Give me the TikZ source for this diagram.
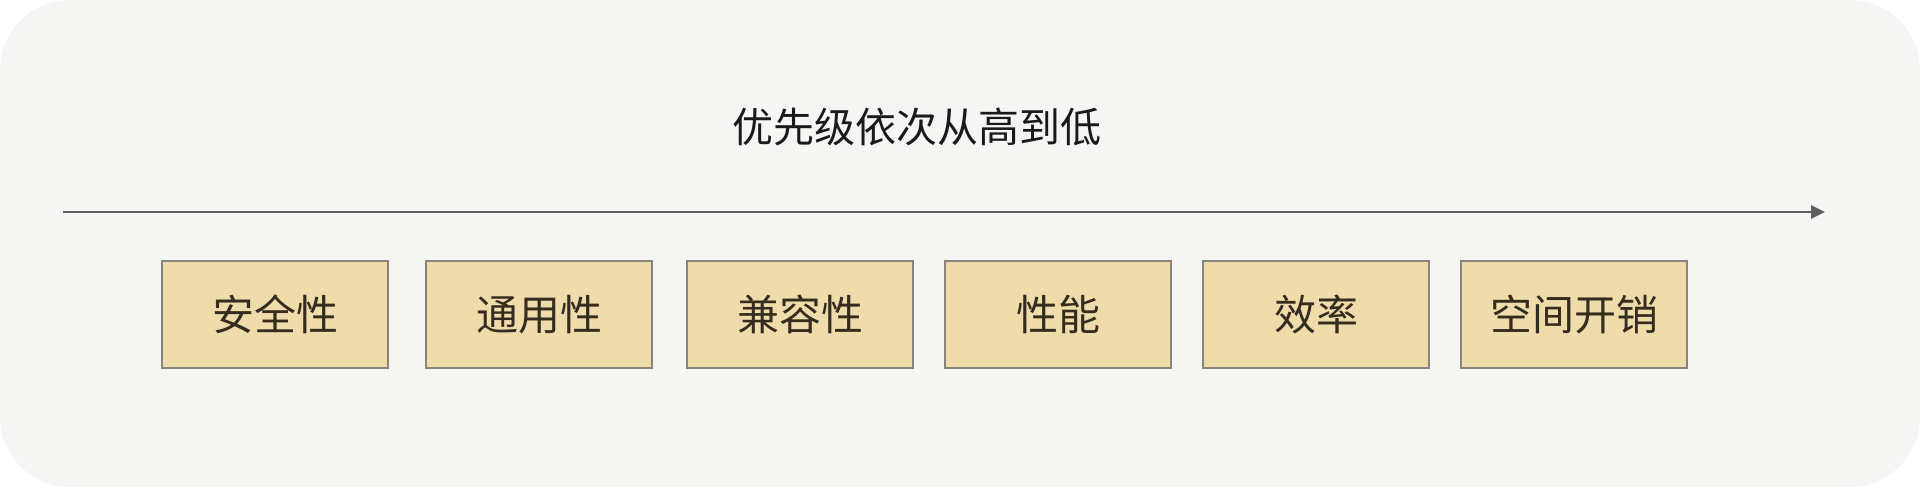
\documentclass[tikz,border=0pt]{standalone}
\usepackage{fontspec}
\newfontfamily\cjk{Noto Sans CJK SC}
\usetikzlibrary{arrows.meta}
\definecolor{bgcol}{HTML}{F5F5F3}
\definecolor{boxfill}{HTML}{F0DCAB}
\definecolor{boxline}{HTML}{88867C}
\definecolor{boxtext}{HTML}{352C20}
\definecolor{titletext}{HTML}{1A1A1A}
\definecolor{arrowcol}{HTML}{606060}
\tikzset{
  prio/.style={draw=boxline, fill=boxfill, line width=1.1pt, minimum width=113pt,
    minimum height=53.5pt, inner sep=0pt, text=boxtext,
    font=\cjk\fontsize{21pt}{25pt}\selectfont},
  heading/.style={inner sep=0pt, text=titletext, font=\cjk\fontsize{20.5pt}{24pt}\selectfont},
  axis/.style={draw=arrowcol, line width=1.35pt, -{Triangle[length=7pt,width=6.5pt]}}
}
\begin{document}
\begin{tikzpicture}[x=0.5pt,y=-0.5pt]
\useasboundingbox (0,0) rectangle (1920,487);
\fill[white] (0,0) rectangle (1920,487);
\fill[bgcol, rounded corners=35pt] (0,0) rectangle (1920,487);
\node[heading] (title) at (917,127) {优先级依次从高到低};
\coordinate (axisstart) at (63,212);
\coordinate (axisend) at (1825,212);
\draw[axis] (axisstart) -- (axisend);
\node[prio] (b1) at (275,314.5) {安全性};
\node[prio] (b2) at (539,314.5) {通用性};
\node[prio] (b3) at (800,314.5) {兼容性};
\node[prio] (b4) at (1058,314.5) {性能};
\node[prio] (b5) at (1316,314.5) {效率};
\node[prio] (b6) at (1574,314.5) {空间开销};
\end{tikzpicture}
\end{document}
